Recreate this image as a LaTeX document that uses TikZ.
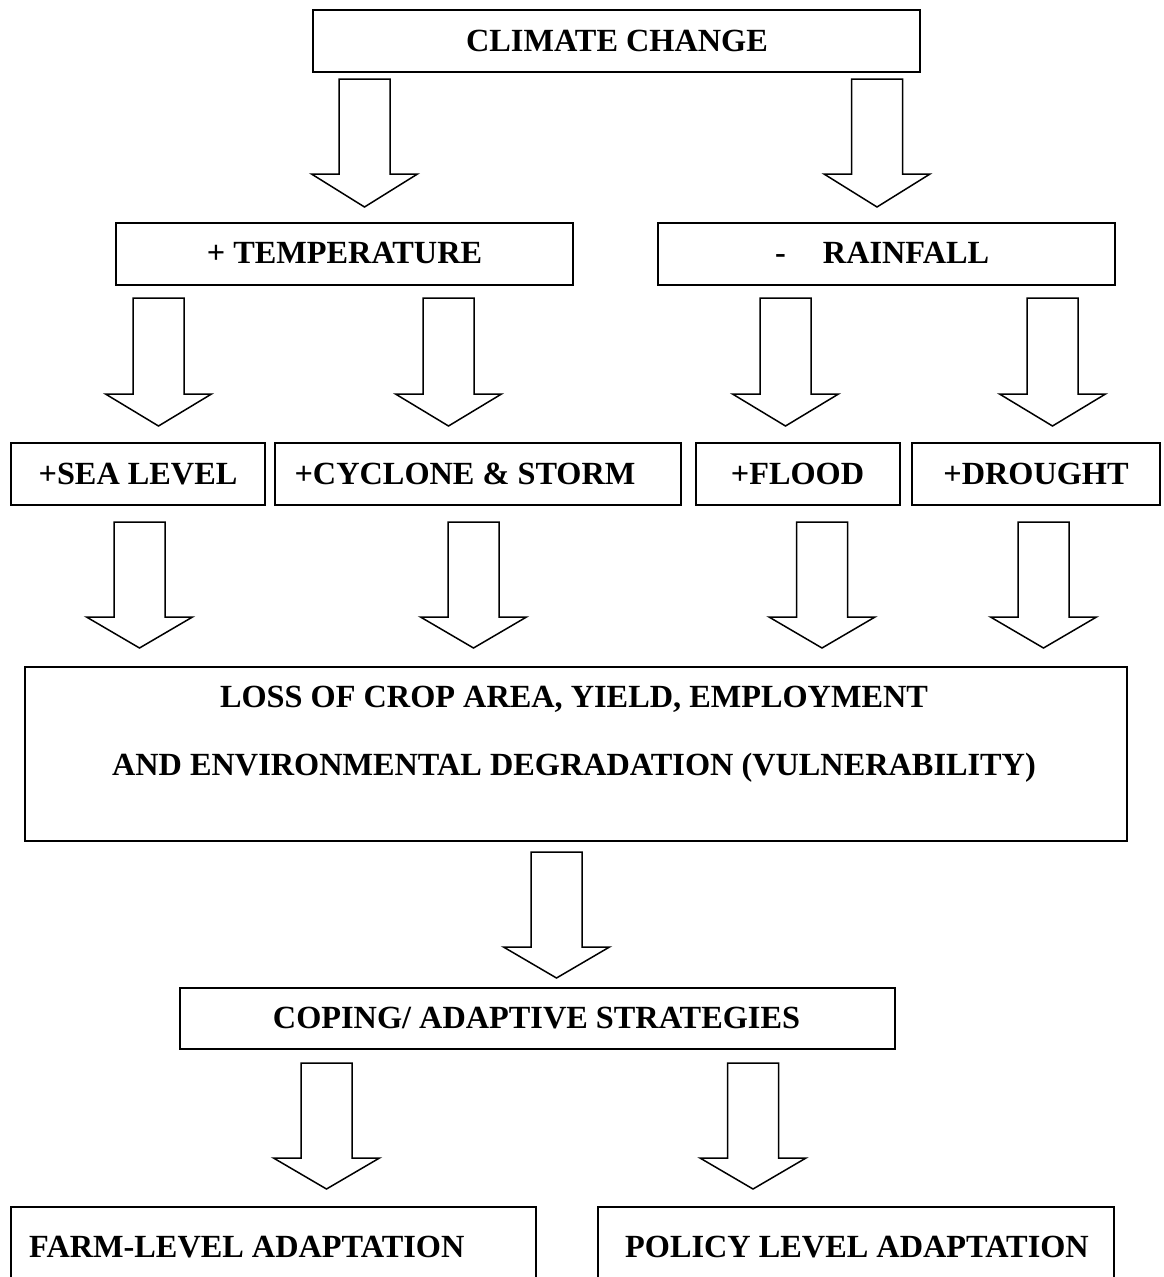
\documentclass[tikz,border=0pt]{standalone}
\usepackage{fontspec}
\setmainfont{Liberation Serif}
\newcommand\BArrow[4]{% centre x, shaft top, head base, tip
  \draw[barrow] (#1-25.5,#2) -- (#1+25.5,#2) -- (#1+25.5,#3) -- (#1+53,#3) -- (#1,#4)
    -- (#1-53,#3) -- (#1-25.5,#3) -- cycle;}
\begin{document}
\begin{tikzpicture}[x=1pt,y=-1pt,
  box/.style={draw, line width=1.6pt, rectangle, inner sep=0pt},
  boxline/.style={draw, line width=1.6pt},
  lbl/.style={anchor=base, font=\bfseries\fontsize{32.3}{38}\selectfont, inner sep=0pt},
  barrow/.style={draw, line width=1.5pt, fill=white, line join=miter}]
\useasboundingbox (0,0) rectangle (1164,1277);

% boxes
\node[box, minimum width=607pt, minimum height=62pt] (cc) at (616.5,41) {};
\node[box, minimum width=457pt, minimum height=62pt] (temp) at (344.5,254) {};
\node[box, minimum width=457pt, minimum height=62pt] (rain) at (886.5,254) {};
\node[box, minimum width=254pt, minimum height=62pt] (sea) at (138,474) {};
\node[box, minimum width=406pt, minimum height=62pt] (cyc) at (478,474) {};
\node[box, minimum width=204pt, minimum height=62pt] (flood) at (798,474) {};
\node[box, minimum width=248pt, minimum height=62pt] (drought) at (1036,474) {};
\node[box, minimum width=1102pt, minimum height=174pt] (loss) at (576,754) {};
\node[box, minimum width=715pt, minimum height=61pt] (cope) at (537.5,1018.5) {};
\coordinate (farmTL) at (11,1207);
\coordinate (farmTR) at (536,1207);
\coordinate (polTL) at (598,1207);
\coordinate (polTR) at (1114,1207);
\draw[boxline] (farmTL |- 0,1278) -- (farmTL) -- (farmTR) -- (farmTR |- 0,1278);
\draw[boxline] (polTL |- 0,1278) -- (polTL) -- (polTR) -- (polTR |- 0,1278);

% labels
\node[lbl] (tcc) at (617,51) {CLIMATE CHANGE};
\node[lbl] (ttemp) at (344.5,263) {+ TEMPERATURE};
\node[lbl, anchor=base west] (train) at (775,263) {-\hspace{37pt}RAINFALL};
\node[lbl] (tsea) at (138,484) {+SEA LEVEL};
\node[lbl] (tcyc) at (465,484) {+CYCLONE \& STORM};
\node[lbl] (tflood) at (797.5,484) {+FLOOD};
\node[lbl] (tdrought) at (1036,484) {+DROUGHT};
\node[lbl] (tloss1) at (574,707) {LOSS OF CROP AREA, YIELD, EMPLOYMENT};
\node[lbl] (tloss2) at (574,775) {AND ENVIRONMENTAL DEGRADATION (VULNERABILITY)};
\node[lbl] (tcope) at (536.5,1028) {COPING/ ADAPTIVE STRATEGIES};
\node[lbl, anchor=base west] (tfarm) at (29,1257) {FARM-LEVEL ADAPTATION};
\node[lbl] (tpol) at (857,1257) {POLICY LEVEL ADAPTATION};

% block arrows
\BArrow{364.5}{79}{174}{207}
\BArrow{877}{79}{174}{207}
\BArrow{158.5}{298}{394}{426}
\BArrow{448.5}{298}{394}{426}
\BArrow{785.5}{298}{394}{426}
\BArrow{1052.5}{298}{394}{426}
\BArrow{139.5}{522}{617}{648}
\BArrow{473.5}{522}{617}{648}
\BArrow{822}{522}{617}{648}
\BArrow{1043.5}{522}{617}{648}
\BArrow{556.5}{852}{947}{978}
\BArrow{326.5}{1063}{1158}{1189}
\BArrow{753}{1063}{1158}{1189}
\end{tikzpicture}
\end{document}
